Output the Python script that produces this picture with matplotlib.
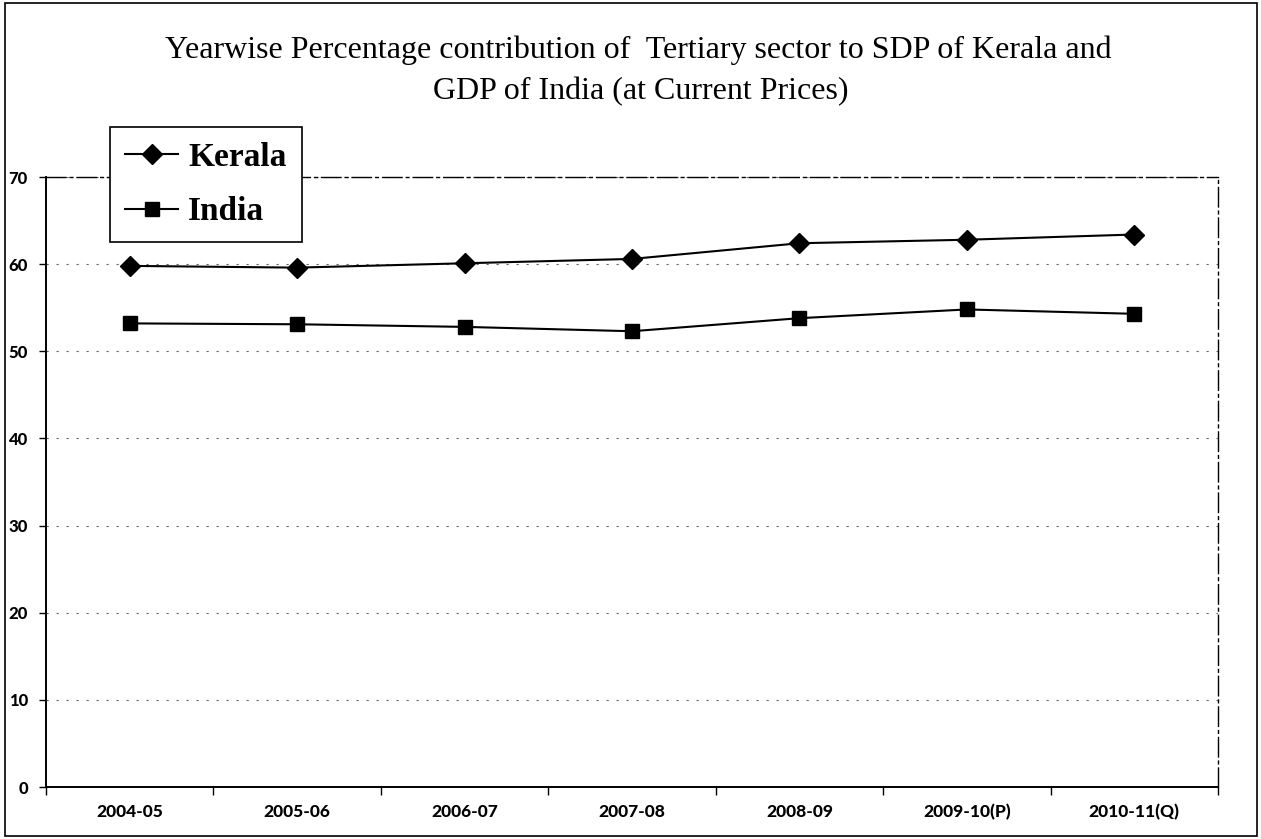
import matplotlib.pyplot as plt
from matplotlib.patches import Rectangle

years = ["2004-05", "2005-06", "2006-07", "2007-08", "2008-09", "2009-10(P)", "2010-11(Q)"]
kerala = [59.8, 59.6, 60.1, 60.6, 62.4, 62.8, 63.4]
india = [53.2, 53.1, 52.8, 52.3, 53.8, 54.8, 54.3]
yticks = [0, 10, 20, 30, 40, 50, 60, 70]

serif = "Liberation Serif"
sans = "Lato"

fig = plt.figure(figsize=(12.61, 8.39), dpi=100)
ax = fig.add_axes([46 / 1261, 52 / 839, 1172 / 1261, 610 / 839])

x = list(range(len(years)))
ax.plot(x, kerala, color="k", lw=1.5, marker="D", ms=10, label="Kerala")
ax.plot(x, india, color="k", lw=1.5, marker="s", ms=10, label="India")

ax.set_xlim(-0.5, len(years) - 0.5)
ax.set_ylim(0, 70)

# category labels in the middle, tick marks between categories
ax.set_xticks(x)
ax.set_xticklabels(years, fontfamily=sans, fontweight="black", fontsize=12.5)
ax.tick_params(axis="x", which="major", length=0, pad=12)
ax.set_xticks([i - 0.5 for i in range(len(years) + 1)], minor=True)
ax.tick_params(axis="x", which="minor", length=6, width=1, direction="out")

ax.set_yticks(yticks)
ax.set_yticklabels([str(v) for v in yticks], fontfamily=sans, fontweight="black", fontsize=12)
ax.tick_params(axis="y", length=5, width=1, direction="out", pad=8)

ax.yaxis.grid(True, color="0.4", linestyle=(0, (2, 7)), lw=0.8)
ax.set_axisbelow(True)

for side in ["left", "bottom"]:
    ax.spines[side].set_linewidth(1.4)
for side in ["top", "right"]:
    ax.spines[side].set_linewidth(1.0)
    ax.spines[side].set_linestyle((0, (14, 3, 2, 3)))

leg = ax.legend(loc="upper left", bbox_to_anchor=((110 - 46) / 1172, (787 - 127) / 610),
                borderaxespad=0, fancybox=False, edgecolor="k", framealpha=1,
                handlelength=1.6, handletextpad=0.3, labelspacing=0.7,
                borderpad=0.45, prop={"family": serif, "weight": "bold", "size": 24})
leg.get_frame().set_linewidth(1.2)

fig.text(0.506, 1 - 50 / 839, "Yearwise Percentage contribution of  Tertiary sector to SDP of Kerala and",
         ha="center", va="center", fontfamily=serif, fontsize=23)
fig.text(0.508, 1 - 92 / 839, "GDP of India (at Current Prices)",
         ha="center", va="center", fontfamily=serif, fontsize=23)

fig.patches.append(Rectangle((0.004, 0.003), 0.993, 0.994, transform=fig.transFigure,
                             fill=False, edgecolor="k", lw=1.2))

fig.savefig("out.png", dpi=100)
